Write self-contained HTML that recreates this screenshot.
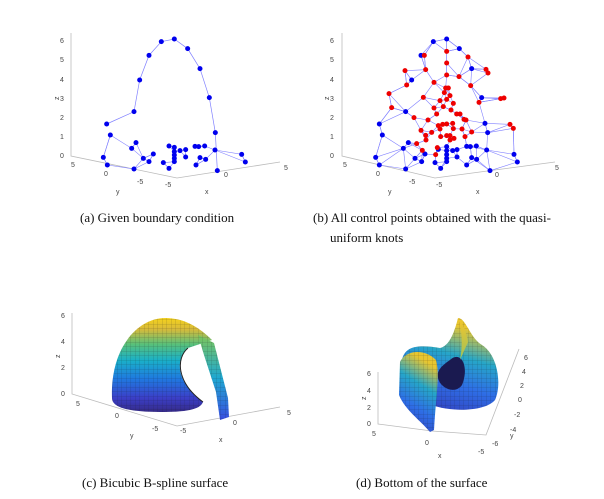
<!DOCTYPE html>
<html><head><meta charset="utf-8"><style>
body{margin:0;background:#fff}
svg{display:block}
.t{font-family:"Liberation Sans",sans-serif;font-size:7px;fill:#444}
.cap{font-family:"Liberation Serif",serif;font-size:13px;fill:#111}
.ax{stroke:#bbb;stroke-width:0.8;fill:none}
</style></head><body>
<svg id="fig" width="604" height="499" viewBox="0 0 604 499">
<defs>
<linearGradient id="par" x1="0" y1="1" x2="0" y2="0">
<stop offset="0" stop-color="#352a87"/><stop offset="0.15" stop-color="#3b3fc8"/><stop offset="0.35" stop-color="#1f78e0"/>
<stop offset="0.55" stop-color="#1ab0c8"/><stop offset="0.72" stop-color="#58c07a"/><stop offset="0.88" stop-color="#d7ba3a"/><stop offset="1" stop-color="#f5d21c"/></linearGradient>
<linearGradient id="par2" x1="0" y1="1" x2="0" y2="0">
<stop offset="0" stop-color="#3a4fe0"/><stop offset="0.5" stop-color="#1fa8d0"/><stop offset="1" stop-color="#7cc65a"/></linearGradient>
<linearGradient id="parD" x1="0" y1="1" x2="0.3" y2="0">
<stop offset="0" stop-color="#3438b8"/><stop offset="0.4" stop-color="#2e6ee6"/><stop offset="0.7" stop-color="#26a6c8"/><stop offset="1" stop-color="#e8c630"/></linearGradient>
<linearGradient id="yel" x1="0" y1="1" x2="0" y2="0"><stop offset="0" stop-color="#9cc25a"/><stop offset="1" stop-color="#f7c52a"/></linearGradient>
<pattern id="grid" width="4.5" height="4.5" patternUnits="userSpaceOnUse"><path d="M0,0H4.5M0,0V4.5" stroke="#111" stroke-width="0.5" opacity="0.4"/></pattern>
</defs>

<g>
<path class="ax" d="M71,33V156L177,178L280,162"/>
<g class="t">
<text x="60" y="43">6</text><text x="60" y="62">5</text><text x="60" y="82">4</text><text x="60" y="101">3</text><text x="60" y="120">2</text><text x="60" y="139">1</text><text x="60" y="158">0</text>
<text x="55" y="100" transform="rotate(-90 57 98)">z</text>
<text x="71" y="167">5</text><text x="104" y="176">0</text><text x="137" y="184">-5</text><text x="116" y="194">y</text>
<text x="165" y="187">-5</text><text x="224" y="177">0</text><text x="284" y="170">5</text><text x="205" y="194">x</text></g>
<g id="ga"></g>
</g>

<g>
<path class="ax" d="M342,33V156L435,178L555,162"/>
<g class="t">
<text x="330" y="43">6</text><text x="330" y="62">5</text><text x="330" y="82">4</text><text x="330" y="101">3</text><text x="330" y="120">2</text><text x="330" y="139">1</text><text x="330" y="158">0</text>
<text x="325" y="100" transform="rotate(-90 327 98)">z</text>
<text x="343" y="167">5</text><text x="376" y="176">0</text><text x="409" y="184">-5</text><text x="388" y="194">y</text>
<text x="436" y="187">-5</text><text x="495" y="177">0</text><text x="555" y="170">5</text><text x="476" y="194">x</text></g>
<g id="gb"></g>
</g>

<text class="cap" x="80" y="222">(a)  Given boundary condition</text>
<text class="cap" x="313" y="222">(b)  All control points obtained with the quasi-</text>
<text class="cap" x="330" y="242">uniform knots</text>

<g>
<path class="ax" d="M72,313V394L177,426L280,407"/>
<g class="t"><text x="61" y="318">6</text><text x="61" y="344">4</text><text x="61" y="370">2</text><text x="61" y="396">0</text>
<text x="56" y="358" transform="rotate(-90 58 356)">z</text>
<text x="76" y="406">5</text><text x="115" y="418">0</text><text x="152" y="431">-5</text><text x="130" y="438">y</text>
<text x="180" y="433">-5</text><text x="233" y="425">0</text><text x="287" y="415">5</text><text x="219" y="442">x</text></g>
<g>
<path d="M112,398C110,348 138,318 165,318C185,318 200,328 212,340L188,348C175,360 176,382 203,402C200,410 185,412 160,412C130,412 112,408 112,398Z" fill="url(#par)"/>
<path d="M112,398C110,348 138,318 165,318C185,318 200,328 212,340L188,348C175,360 176,382 203,402C200,410 185,412 160,412C130,412 112,408 112,398Z" fill="url(#grid)"/>
<path d="M188,348C176,358 176,382 203,402" stroke="#222" stroke-width="1" fill="none"/>
<path d="M198,335L214,343L228,398L229,417L220,420L216,392L204,355Z" fill="url(#par2)"/>
<path d="M198,335L214,343L228,398L229,417L220,420L216,392L204,355Z" fill="url(#grid)"/>
</g>
</g>

<g>
<path class="ax" d="M378,372V424L432,431L486,435L519,349"/>
<g class="t"><text x="367" y="376">6</text><text x="367" y="393">4</text><text x="367" y="410">2</text><text x="367" y="426">0</text>
<text x="362" y="400" transform="rotate(-90 364 398)">z</text>
<text x="372" y="436">5</text><text x="425" y="445">0</text><text x="478" y="454">-5</text><text x="438" y="458">x</text>
<text x="524" y="360">6</text><text x="522" y="374">4</text><text x="520" y="388">2</text><text x="518" y="402">0</text><text x="514" y="417">-2</text><text x="510" y="432">-4</text><text x="492" y="446">-6</text><text x="510" y="438">y</text></g>
<g>
<path d="M402,360C405,345 420,345 440,348C450,346 455,330 458,318C466,318 470,338 482,345C498,355 502,385 495,400C485,412 450,412 432,405C420,395 412,380 405,375Z" fill="url(#parD)"/>
<path d="M402,360C405,345 420,345 440,348C450,346 455,330 458,318C466,318 470,338 482,345C498,355 502,385 495,400C485,412 450,412 432,405C420,395 412,380 405,375Z" fill="url(#grid)"/>
<path d="M450,360C460,350 470,365 462,385C455,395 440,388 438,378C436,370 444,364 450,360Z" fill="#1a1a50"/>
<path d="M458,318C462,330 463,345 460,360L468,342C466,330 462,322 458,318Z" fill="url(#yel)"/>
<path d="M400,362C405,350 425,348 436,360C440,375 436,395 434,430L430,432C420,420 405,410 399,395Z" fill="url(#parD)"/>
<path d="M400,362C405,350 425,348 436,360C440,375 436,395 434,430L430,432C420,420 405,410 399,395Z" fill="url(#grid)"/>
</g>
</g>

<text class="cap" x="82" y="487">(c)  Bicubic B-spline surface</text>
<text class="cap" x="356" y="487">(d)  Bottom of the surface</text>
</svg>
<script>
const aArch=[[200,312],[282,275],[299,180],[327,106],[364,65],[403,57],[443,86],[480,146],[508,233],[526,338],[532,452]];
const aPts=[[211,345],[190,412],[202,435],[275,385],[288,368],[282,447],[387,378],[387,445],[525,390],[605,403],[616,426],[310,415],[327,425],[340,402],[370,428],[403,382],[403,395],[403,405],[403,415],[403,425],[420,392],[437,389],[437,411],[465,379],[476,380],[494,378],[480,413],[468,435],[497,418]];
const bBlue=[[410,57],[370,65],[333,106],[448,86],[485,146],[305,180],[515,233],[287,275],[208,312],[217,345],[197,412],[208,435],[280,385],[295,368],[287,447],[392,445],[525,310],[533,338],[530,390],[540,452],[612,403],[622,426],[315,415],[335,425],[345,402],[375,428],[410,380],[410,392],[410,404],[410,415],[410,425],[428,392],[441,389],[441,411],[470,379],[481,380],[499,378],[485,413],[470,435],[500,418],[385,388]];
const bRed=[[343,106],[410,94],[474,111],[285,152],[347,149],[410,129],[528,148],[534,159],[237,221],[290,195],[372,187],[410,165],[447,170],[482,197],[245,263],[340,232],[407,204],[415,204],[403,218],[420,227],[390,242],[410,238],[572,236],[582,234],[507,247],[312,293],[372,264],[400,260],[430,250],[423,270],[440,282],[450,282],[380,282],[354,300],[398,313],[385,317],[410,312],[428,310],[468,300],[462,298],[333,331],[365,337],[390,327],[430,326],[456,327],[485,336],[600,313],[610,325],[347,346],[348,360],[392,350],[410,347],[420,347],[432,355],[465,350],[320,371],[337,391],[377,404],[382,383],[420,360]];
const NS='http://www.w3.org/2000/svg';
function sx(p,ox){return ox+p[0]/3;} function sy(p){return 20+p[1]/3;}
function mesh(g,pts,ox,k){
  for(let i=0;i<pts.length;i++){
    const d=pts.map((q,j)=>[Math.hypot(q[0]-pts[i][0],q[1]-pts[i][1]),j]).filter(e=>e[1]!==i).sort((a,b)=>a[0]-b[0]);
    for(let n=0;n<k;n++){const j=d[n][1];
      const l=document.createElementNS(NS,'line');
      l.setAttribute('x1',sx(pts[i],ox));l.setAttribute('y1',sy(pts[i]));l.setAttribute('x2',sx(pts[j],ox));l.setAttribute('y2',sy(pts[j]));
      l.setAttribute('stroke','#8080ff');l.setAttribute('stroke-width','0.6');
      
      
      g.appendChild(l);}
  }
}
function dots(g,pts,ox,col){
  pts.forEach(p=>{const c=document.createElementNS(NS,'circle');
    c.setAttribute('cx',sx(p,ox));c.setAttribute('cy',sy(p));c.setAttribute('r','2.5');c.setAttribute('fill',col);
    
    
    g.appendChild(c);});
}
const ga=document.getElementById('ga');
const pl=document.createElementNS(NS,'polyline');
pl.setAttribute('points',aArch.map(p=>sx(p,40)+','+sy(p)).join(' '));
pl.setAttribute('fill','none');pl.setAttribute('stroke','#8080ff');pl.setAttribute('stroke-width','0.7');


ga.appendChild(pl);
mesh(ga,aPts,40,2);
dots(ga,aArch.concat(aPts),40,'#0000ee');
const gb=document.getElementById('gb');
const all=bBlue.concat(bRed);
mesh(gb,all,310,3);
dots(gb,bBlue,310,'#0000ee');
dots(gb,bRed,310,'#ee0000');
</script>
</body></html>
